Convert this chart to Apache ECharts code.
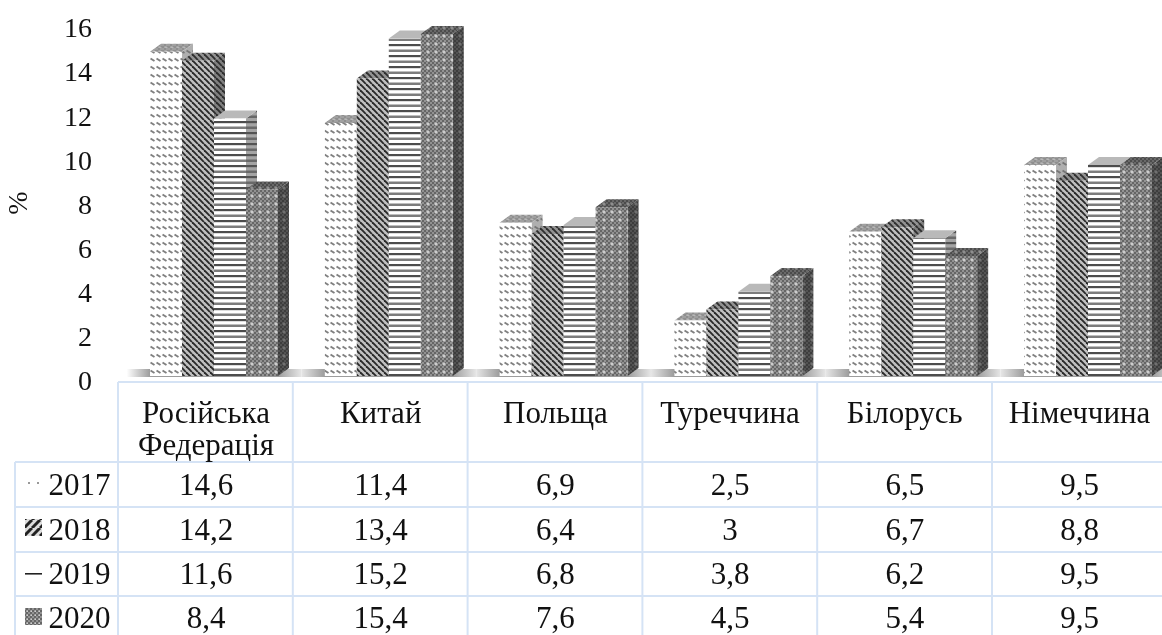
<!DOCTYPE html>
<html>
<head>
<meta charset="utf-8">
<style>html,body{margin:0;padding:0;background:#fff;overflow:hidden}#chart{width:1162px;height:635px}</style>
<script src="https://cdn.jsdelivr.net/npm/echarts@6/dist/echarts.min.js"></script>
</head>
<body>
<div id="chart"></div>
<script>
// Shares of partner countries, per cent
const countries = ['Російська\nФедерація', 'Китай', 'Польща', 'Туреччина', 'Білорусь', 'Німеччина'];
const years = ['2017', '2018', '2019', '2020'];
const values2017 = [14.6, 11.4, 6.9, 2.5, 6.5, 9.5];
const values2018 = [14.2, 13.4, 6.4, 3, 6.7, 8.8];
const values2019 = [11.6, 15.2, 6.8, 3.8, 6.2, 9.5];
const values2020 = [8.4, 15.4, 7.6, 4.5, 5.4, 9.5];
const allValues = [values2017, values2018, values2019, values2020];

const FONT = '"Liberation Serif", "Times New Roman", serif';
const depthX = 11, depthY = 8;

// Small repeating tiles used as hatch fills
function tile(w, h, draw, overlay) {
  const c = document.createElement('canvas');
  c.width = w; c.height = h;
  const g = c.getContext('2d');
  draw(g, w, h);
  if (overlay) { g.fillStyle = overlay; g.fillRect(0, 0, w, h); }
  return { image: c, repeat: 'repeat' };
}
function wavy(g, w, h) {
  g.fillStyle = '#fff'; g.fillRect(0, 0, w, h);
  g.strokeStyle = '#808080'; g.lineWidth = 2;
  g.beginPath(); g.moveTo(0.5, 2.5); g.lineTo(4.5, 5); g.stroke();
}
function diagonal(g, w, h) {
  g.fillStyle = '#c0c0c0'; g.fillRect(0, 0, w, h);
  g.strokeStyle = '#2a2a2a'; g.lineWidth = 1.9;
  for (let i = -w; i <= w; i += w) {
    g.beginPath(); g.moveTo(i, 0); g.lineTo(i + w, h); g.stroke();
  }
}
function rising(g, w, h) {
  g.fillStyle = '#ddd'; g.fillRect(0, 0, w, h);
  g.strokeStyle = '#222'; g.lineWidth = 3;
  for (let i = -w; i <= w; i += w) {
    g.beginPath(); g.moveTo(i, h); g.lineTo(i + w, 0); g.stroke();
  }
}
function lines(g, w, h) {
  g.fillStyle = '#fff'; g.fillRect(0, 0, w, h);
  g.fillStyle = '#4c4c4c'; g.fillRect(0, 0, w, 2);
  g.fillStyle = '#7c7c7c'; g.fillRect(0, 5.5, w, 2.5);
  g.fillStyle = '#ddd'; g.fillRect(0, 2, w, 1);
}
function dotted(g, w, h) {
  for (let y = 0; y < h; y += 2) for (let x = 0; x < w; x += 2) {
    g.fillStyle = ((x + y) / 2) % 2 ? '#666' : '#929292';
    g.fillRect(x, y, 2, 2);
  }
  g.fillStyle = '#e8e8e8';
  g.fillRect(3, 3, 2, 2);
  g.fillStyle = '#c4c4c4';
  g.fillRect(2, 3.5, 4, 1); g.fillRect(3.5, 2, 1, 4);
}
function plainTop(g, w, h) { g.fillStyle = '#b9b9b9'; g.fillRect(0, 0, w, h); }
function sparse(g, w, h) {
  g.fillStyle = '#fff'; g.fillRect(0, 0, w, h);
  g.fillStyle = '#999'; g.fillRect(1, 1, 2, 2);
}

const faces = [
  { front: tile(6, 8, wavy), top: tile(6, 4, dotted, 'rgba(170,170,170,.6)'), side: tile(6, 8, wavy, 'rgba(110,110,110,.55)') },
  { front: tile(6, 6, diagonal), top: tile(6, 6, diagonal, 'rgba(60,60,60,.35)'), side: tile(6, 6, diagonal, 'rgba(50,50,50,.45)') },
  { front: tile(2, 11, lines), top: tile(2, 2, plainTop), side: tile(2, 11, lines, 'rgba(90,90,90,.55)') },
  { front: tile(8, 8, dotted), top: tile(8, 8, dotted, 'rgba(30,30,30,.35)'), side: tile(8, 8, dotted, 'rgba(20,20,20,.5)') }
];

// One extruded column: front, side and top faces
function barRenderer(seriesIndex) {
  return function (params, api) {
    const base = api.coord([api.value(0), 0]);
    const top = api.coord([api.value(0), api.value(1)]);
    const band = api.size([1, 0])[0];
    const bw = band * 0.183;
    const x0 = base[0] + (seriesIndex - 2) * bw;
    const x1 = x0 + bw;
    const f = faces[seriesIndex];
    return {
      type: 'group',
      children: [
        { type: 'polygon', shape: { points: [[x1, top[1]], [x1 + depthX, top[1] - depthY], [x1 + depthX, base[1] - depthY], [x1, base[1]]] }, style: { fill: f.side } },
        { type: 'polygon', shape: { points: [[x0, top[1]], [x0 + depthX, top[1] - depthY], [x1 + depthX, top[1] - depthY], [x1, top[1]]] }, style: { fill: f.top } },
        { type: 'rect', shape: { x: x0, y: top[1], width: bw, height: base[1] - top[1] }, style: { fill: f.front } }
      ]
    };
  };
}

// Floor strip under each group of columns
function floorRenderer(params, api) {
  const p = api.coord([api.value(0), 0]);
  const band = api.size([1, 0])[0];
  const edge = api.value(0) === 0 ? '#ffffff' : '#e6e6e6';
  return {
    type: 'rect',
    shape: { x: p[0] - band / 2, y: p[1] - depthY + 1, width: band, height: depthY },
    style: {
      fill: new echarts.graphic.LinearGradient(0, 0, 1, 0, [
        { offset: 0, color: edge },
        { offset: 0.134, color: '#9c9c9c' },
        { offset: 0.866, color: '#9c9c9c' },
        { offset: 1, color: '#e6e6e6' }
      ])
    }
  };
}

const series = [{
  type: 'custom', xAxisIndex: 0, yAxisIndex: 1, renderItem: floorRenderer, silent: true,
  encode: { x: 0, y: 1 }, data: countries.map((c, i) => [i, 0])
}];
allValues.forEach((vals, s) => series.push({
  type: 'custom', name: years[s], xAxisIndex: 0, yAxisIndex: 1, renderItem: barRenderer(s), silent: true,
  encode: { x: 0, y: 1 }, data: vals.map((v, i) => [i, v])
}));

// Data table below the plot
const lineColor = '#d5e3f5';
const columnX = i => 118 + 174.8 * i;
const cellX = i => 206 + 174.7 * i;
const rowLines = [462, 507, 552, 596];
const rowCentres = [487, 532, 576, 620];
const keyCentres = [485, 528, 574, 617];
const graphics = [];
function hLine(x1, y, x2) { graphics.push({ type: 'line', shape: { x1, y1: y, x2, y2: y }, style: { stroke: lineColor, lineWidth: 2 }, silent: true }); }
function vLine(x, y1, y2) { graphics.push({ type: 'line', shape: { x1: x, y1, x2: x, y2 }, style: { stroke: lineColor, lineWidth: 2 }, silent: true }); }
function label(text, x, y) {
  graphics.push({ type: 'text', x, y, style: { text, font: '31px ' + FONT, fill: '#111', align: 'center', verticalAlign: 'middle', lineHeight: 32 }, silent: true });
}
hLine(118, 382, 1162);
rowLines.forEach(y => hLine(15, y, 1162));
vLine(15, 462, 635);
countries.forEach((c, i) => {
  vLine(columnX(i), 382, 635);
  label(c, cellX(i), c.includes('\n') ? 431 : 415);
  allValues.forEach((vals, r) => label(String(vals[i]).replace('.', ','), cellX(i), rowCentres[r]));
});
years.forEach((y, r) => label(y, 79.5, rowCentres[r]));

// Legend keys in the first column
const keyFills = [tile(9, 13, sparse), tile(8, 8, rising), null, tile(4, 4, dotted)];
keyFills.forEach((fill, r) => {
  if (fill) graphics.push({ type: 'rect', shape: { x: 25, y: keyCentres[r] - 9, width: 17, height: 17 }, style: { fill }, silent: true });
});
graphics.push({ type: 'rect', shape: { x: 25, y: keyCentres[2] - 1, width: 17, height: 1.6 }, style: { fill: '#222' }, silent: true });
// Axis title
graphics.push({ type: 'text', x: 20, y: 203, rotation: Math.PI / 2, style: { text: '%', font: '28px ' + FONT, fill: '#111', align: 'center', verticalAlign: 'middle' }, silent: true });

const chart = echarts.init(document.getElementById('chart'), null, { renderer: 'canvas' });
chart.setOption({
  animation: false,
  backgroundColor: '#fff',
  grid: [
    { left: 126.6, top: 23, width: 1048.8, height: 353, outerBoundsMode: 'none' },
    // Tick labels sit a few pixels below the front edge of the floor
    { left: 126.6, top: 30, width: 1048.8, height: 353, outerBoundsMode: 'none' }
  ],
  xAxis: [
    { type: 'category', gridIndex: 0, data: countries, axisLine: { show: false }, axisTick: { show: false }, axisLabel: { show: false } },
    { type: 'category', gridIndex: 1, data: countries, show: false }
  ],
  yAxis: [
    {
      type: 'value', gridIndex: 1, min: 0, max: 16, interval: 2, position: 'left',
      axisLine: { show: false }, axisTick: { show: false }, splitLine: { show: false },
      axisLabel: { margin: 34.6, fontFamily: FONT, fontSize: 28, color: '#111' }
    },
    { type: 'value', gridIndex: 0, min: 0, max: 15.9, show: false, splitLine: { show: false } }
  ],
  series,
  graphic: { elements: graphics }
});
</script>
</body>
</html>
